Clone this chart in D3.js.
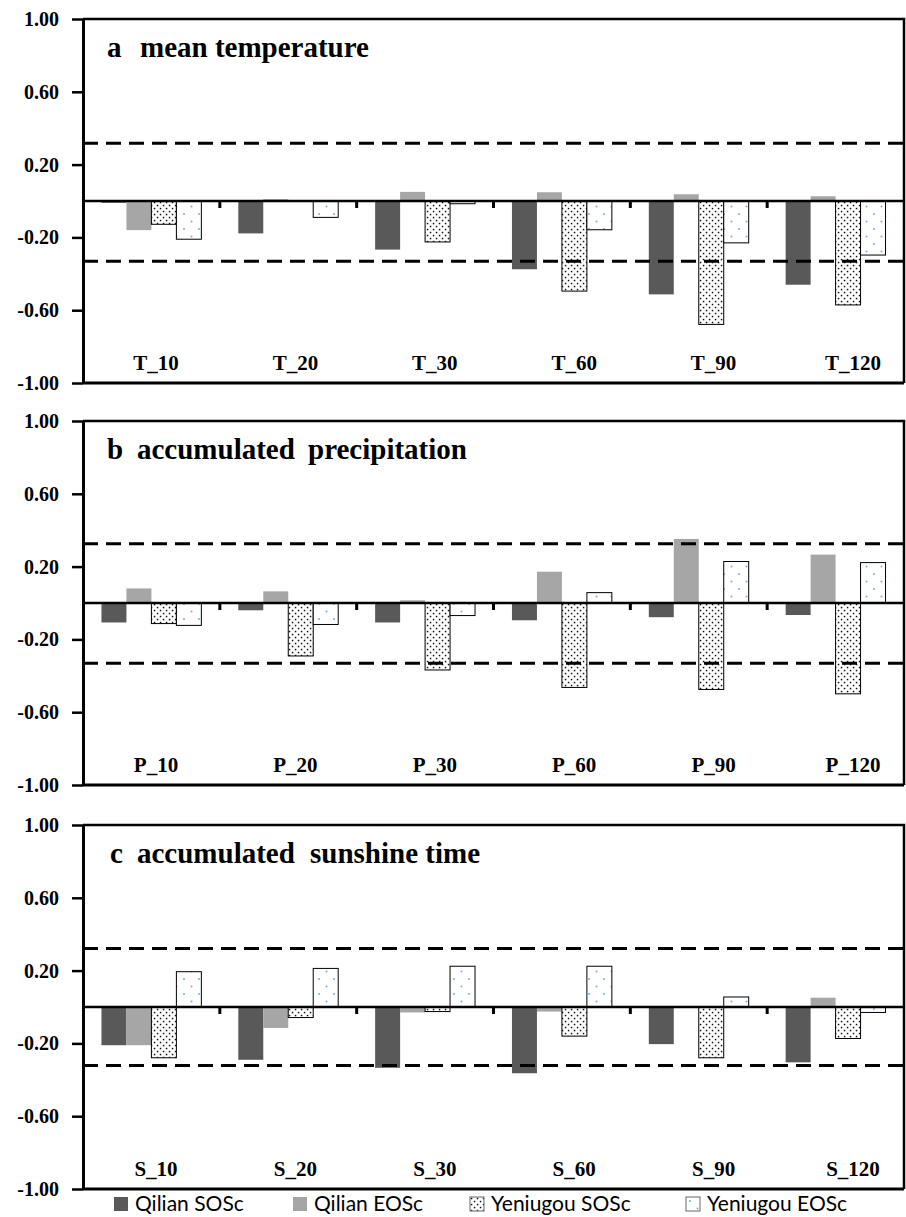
<!DOCTYPE html>
<html>
<head>
<meta charset="utf-8">
<script src="https://cdn.jsdelivr.net/npm/d3@7/dist/d3.min.js"></script>
<style>
body { margin: 0; background: #fff; }
svg { display: block; }
</style>
</head>
<body>
<svg width="906" height="1217"></svg>
<script>
// series and categories
var seriesNames = ["Qilian SOSc", "Qilian EOSc", "Yeniugou SOSc", "Yeniugou EOSc"];
var tempCats = ["T_10", "T_20", "T_30", "T_60", "T_90", "T_120"];
var precCats = ["P_10", "P_20", "P_30", "P_60", "P_90", "P_120"];
var sunCats = ["S_10", "S_20", "S_30", "S_60", "S_90", "S_120"];
var yTicks = [-1.0, -0.6, -0.2, 0.2, 0.6, 1.0];

// a mean temperature
var tempQilianSOS = [-0.01, -0.178, -0.267, -0.375, -0.513, -0.46];
var tempQilianEOS = [-0.16, 0.01, 0.05, 0.048, 0.037, 0.026];
var tempYeniugouSOS = [-0.128, 0.0, -0.225, -0.495, -0.678, -0.571];
var tempYeniugouEOS = [-0.21, -0.09, -0.015, -0.158, -0.23, -0.297];

// b accumulated precipitation
var precQilianSOS = [-0.107, -0.04, -0.107, -0.095, -0.078, -0.066];
var precQilianEOS = [0.08, 0.064, 0.015, 0.172, 0.352, 0.266];
var precYeniugouSOS = [-0.113, -0.291, -0.368, -0.464, -0.475, -0.499];
var precYeniugouEOS = [-0.123, -0.118, -0.069, 0.057, 0.228, 0.222];

// c accumulated sunshine time
var sunQilianSOS = [-0.21, -0.29, -0.334, -0.364, -0.204, -0.304];
var sunQilianEOS = [-0.21, -0.115, -0.03, -0.025, 0.0, 0.051];
var sunYeniugouSOS = [-0.279, -0.058, -0.025, -0.16, -0.279, -0.173];
var sunYeniugouEOS = [0.194, 0.212, 0.224, 0.224, 0.055, -0.03];

// significance thresholds (upper, lower) per panel
var sigTemp = [0.317, -0.331];
var sigPrec = [0.325, -0.331];
var sigSun = [0.321, -0.321];

var svg = d3.select("svg"),
    left = 83,
    right = 904,
    panelH = 364,
    serif = "'Liberation Serif', 'Times New Roman', serif";

var fmt = d3.formatLocale({decimal: ".", thousands: ",", grouping: [3], currency: ["", ""], minus: "-"}).format(".2f");

var defs = svg.append("defs");

var pBlack = defs.append("pattern")
    .attr("id", "dotsBlack")
    .attr("patternUnits", "userSpaceOnUse")
    .attr("width", 6)
    .attr("height", 6);
pBlack.append("rect").attr("width", 6).attr("height", 6).attr("fill", "#fff");
pBlack.append("rect").attr("x", 0.8).attr("y", 0.8).attr("width", 1.5).attr("height", 1.5).attr("fill", "#111");
pBlack.append("rect").attr("x", 3.8).attr("y", 3.8).attr("width", 1.5).attr("height", 1.5).attr("fill", "#111");

var pBlue = defs.append("pattern")
    .attr("id", "dotsBlue")
    .attr("patternUnits", "userSpaceOnUse")
    .attr("width", 15)
    .attr("height", 15);
pBlue.append("rect").attr("width", 15).attr("height", 15).attr("fill", "#fff");
pBlue.append("circle").attr("cx", 4).attr("cy", 4).attr("r", 1).attr("fill", "#7fa9e0");
pBlue.append("circle").attr("cx", 11.5).attr("cy", 11.5).attr("r", 1).attr("fill", "#7fa9e0");

var fills = {"Qilian SOSc": "#595959", "Qilian EOSc": "#a6a6a6",
             "Yeniugou SOSc": "url(#dotsBlack)", "Yeniugou EOSc": "url(#dotsBlue)"};
var strokes = {"Qilian SOSc": "none", "Qilian EOSc": "none",
               "Yeniugou SOSc": "#000", "Yeniugou EOSc": "#000"};

function panel(top, cats, series, sig, titleParts) {
    var bottom = top + panelH;
    var g = svg.append("g");

    var y = d3.scaleLinear().domain([-1, 1]).range([bottom, top]);
    var x0 = d3.scaleBand().domain(cats).range([left, right])
        .paddingInner(0.27).paddingOuter(0.135);
    var x1 = d3.scaleBand().domain(seriesNames).range([0, x0.bandwidth()]);
    var xLab = d3.scalePoint().domain(cats).range([156, 853]);

    var rows = [];
    cats.forEach(function(c, i) {
        seriesNames.forEach(function(s, j) {
            rows.push({cat: c, name: s, value: series[j][i]});
        });
    });

    g.selectAll("rect.bar")
        .data(rows)
        .enter().append("rect")
        .attr("class", "bar")
        .attr("x", function(d) { return x0(d.cat) + x1(d.name); })
        .attr("width", x1.bandwidth())
        .attr("y", function(d) { return y(Math.max(d.value, 0)); })
        .attr("height", function(d) { return Math.abs(y(d.value) - y(0)); })
        .attr("fill", function(d) { return fills[d.name]; })
        .attr("stroke", function(d) { return strokes[d.name]; })
        .attr("stroke-width", 1);

    // significance lines
    g.selectAll("line.sig")
        .data(sig)
        .enter().append("line")
        .attr("x1", left).attr("x2", right)
        .attr("y1", function(d) { return y(d); })
        .attr("y2", function(d) { return y(d); })
        .attr("stroke", "#000")
        .attr("stroke-width", 3)
        .attr("stroke-dasharray", "15,8");

    // zero line + group ticks
    g.append("line")
        .attr("x1", left).attr("x2", right)
        .attr("y1", y(0)).attr("y2", y(0))
        .attr("stroke", "#000").attr("stroke-width", 2.5);

    g.selectAll("line.gtick")
        .data(d3.range(1, cats.length))
        .enter().append("line")
        .attr("x1", function(i) { return left + i * x0.step(); })
        .attr("x2", function(i) { return left + i * x0.step(); })
        .attr("y1", y(0)).attr("y2", y(0) + 7)
        .attr("stroke", "#000").attr("stroke-width", 3);

    // frame
    g.append("path")
        .attr("d", "M" + left + "," + top + "H" + right + "V" + bottom)
        .attr("fill", "none").attr("stroke", "#000").attr("stroke-width", 2.5);
    g.append("line")
        .attr("x1", left).attr("x2", right)
        .attr("y1", bottom).attr("y2", bottom)
        .attr("stroke", "#000").attr("stroke-width", 3);

    var ax = g.append("g")
        .attr("transform", "translate(" + left + ",0)")
        .call(d3.axisLeft(y).tickValues(yTicks).tickFormat(fmt).tickSize(11).tickPadding(13).tickSizeOuter(0));
    ax.select(".domain").attr("stroke-width", 3);
    ax.selectAll(".tick line").attr("stroke-width", 2.5);
    ax.selectAll(".tick text")
        .style("font-family", serif)
        .style("font-weight", "bold")
        .style("font-size", "20px")
        .attr("fill", "#000");

    g.selectAll("text.cat")
        .data(cats)
        .enter().append("text")
        .attr("x", function(d) { return xLab(d); })
        .attr("y", bottom - 13)
        .attr("text-anchor", "middle")
        .attr("font-family", serif)
        .attr("font-weight", "bold")
        .attr("font-size", 21)
        .text(function(d) { return d; });

    var t = g.append("text")
        .attr("y", top + 38)
        .attr("font-family", serif)
        .attr("font-weight", "bold")
        .attr("font-size", 29);
    titleParts.forEach(function(p) {
        t.append("tspan").attr("x", p[0]).text(p[1]);
    });
}

panel(19, tempCats, [tempQilianSOS, tempQilianEOS, tempYeniugouSOS, tempYeniugouEOS], sigTemp,
      [[107, "a"], [140, "mean temperature"]]);
panel(421, precCats, [precQilianSOS, precQilianEOS, precYeniugouSOS, precYeniugouEOS], sigPrec,
      [[107, "b"], [137, "accumulated"], [308, "precipitation"]]);
panel(825, sunCats, [sunQilianSOS, sunQilianEOS, sunYeniugouSOS, sunYeniugouEOS], sigSun,
      [[110, "c"], [137, "accumulated"], [310, "sunshine time"]]);

// legend
var legX = d3.scaleOrdinal().domain(seriesNames).range([114, 293, 470, 686]);
var leg = svg.append("g").selectAll("g")
    .data(seriesNames)
    .enter().append("g")
    .attr("transform", function(d) { return "translate(" + legX(d) + ",1197)"; });
leg.append("rect")
    .attr("width", 14).attr("height", 14)
    .attr("fill", function(d) { return fills[d]; })
    .attr("stroke", function(d) { return strokes[d] === "none" ? "none" : "#666"; })
    .attr("stroke-width", 1);
leg.append("text")
    .attr("x", 21)
    .attr("y", 14)
    .attr("font-family", "Lato, 'Open Sans', sans-serif")
    .attr("font-size", 21)
    .attr("fill", "#000")
    .text(function(d) { return d; });
</script>
</body>
</html>
